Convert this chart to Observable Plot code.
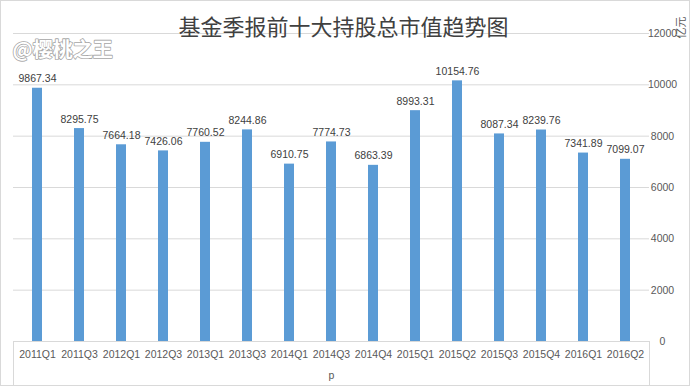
<!DOCTYPE html>
<html>
<head>
<meta charset="utf-8">
<script src="https://cdn.jsdelivr.net/npm/d3@7"></script>
<script src="https://cdn.jsdelivr.net/npm/@observablehq/plot@0.6"></script>
<style>
  html, body { margin: 0; padding: 0; background: #fff; }
  #chart svg { display: block; }
</style>
</head>
<body>
<div id="chart"></div>
<script>
const quarters = ["2011Q1","2011Q3","2012Q1","2012Q3","2013Q1","2013Q3","2014Q1","2014Q3","2014Q4","2015Q1","2015Q2","2015Q3","2015Q4","2016Q1","2016Q2"];
const values = [9867.34, 8295.75, 7664.18, 7426.06, 7760.52, 8244.86, 6910.75, 7774.73, 6863.39, 8993.31, 10154.76, 8087.34, 8239.76, 7341.89, 7099.07];
const yTicks = [0, 2000, 4000, 6000, 8000, 10000, 12000];
const titleText = "基金季报前十大持股总市值趋势图";
const unitText = "亿元";
const xLabelText = "p";
const watermark = "@樱桃之王";

const data = quarters.map((q, i) => ({q, v: values[i]}));
const numFont = "'Liberation Sans', Arial, sans-serif";
const cjkFont = "'Noto Sans CJK SC', sans-serif";

const plot = Plot.plot({
  width: 690,
  height: 386,
  marginLeft: 13,
  marginRight: 41,
  marginTop: 33,
  marginBottom: 45,
  style: {fontFamily: numFont, background: "#fff", overflow: "visible"},
  x: {domain: quarters, paddingInner: 0.76, paddingOuter: 0.38},
  y: {domain: [0, 12000]},
  marks: [
    Plot.gridY(yTicks, {stroke: "#d9d9d9", strokeOpacity: 1}),
    Plot.ruleY([0], {stroke: "#d9d9d9"}),
    Plot.barY(data, {x: "q", y: "v", fill: "#5b9bd5"}),
    Plot.text(data, {x: "q", y: "v", text: d => d.v.toFixed(2), lineAnchor: "bottom", dy: -6, fontSize: 10.5, fill: "#404040"}),
    Plot.axisX({tickSize: 0, tickPadding: 9, fontSize: 10.5, fill: "#595959", label: null}),
    Plot.axisY({anchor: "right", ticks: yTicks, tickSize: 0, tickPadding: 13, textAnchor: "middle", fontSize: 10.5, fill: "#595959", label: null, tickFormat: d => String(d)}),
    Plot.text([xLabelText], {frameAnchor: "bottom", dy: 37, fontSize: 10.5, fill: "#595959"}),
    Plot.text([titleText], {frameAnchor: "top", dx: 12, dy: -14, fontSize: 22, fontFamily: cjkFont, fill: "#404040"}),
    Plot.text([unitText], {frameAnchor: "top-right", dx: 28, dy: -17, rotate: -90, fontSize: 11, fontFamily: cjkFont, fill: "#595959"}),
    Plot.text([watermark], {frameAnchor: "top-left", textAnchor: "start", dx: -1, dy: 9, fontSize: 20, fontWeight: "bold", fontFamily: cjkFont, fill: "#ffffff", stroke: "#a6a6a6", strokeWidth: 1.6, paintOrder: "stroke"})
  ]
});

// decorative frame lines (outer border and the box under the category axis)
const svg = d3.select(plot);
const xs = plot.scale("x");
const ys = plot.scale("y");
const left = xs.range[0], right = xs.range[1];
const base = ys.apply(0);
const g = svg.append("g").attr("stroke", "#d9d9d9").attr("fill", "none");
g.append("line").attr("x1", left + 0.5).attr("x2", left + 0.5).attr("y1", base).attr("y2", 386);
g.append("line").attr("x1", right + 0.5).attr("x2", right + 0.5).attr("y1", base).attr("y2", 386);
g.append("rect").attr("x", 0.5).attr("y", 0.5).attr("width", 689).attr("height", 385);

document.getElementById("chart").appendChild(plot);
</script>
</body>
</html>
